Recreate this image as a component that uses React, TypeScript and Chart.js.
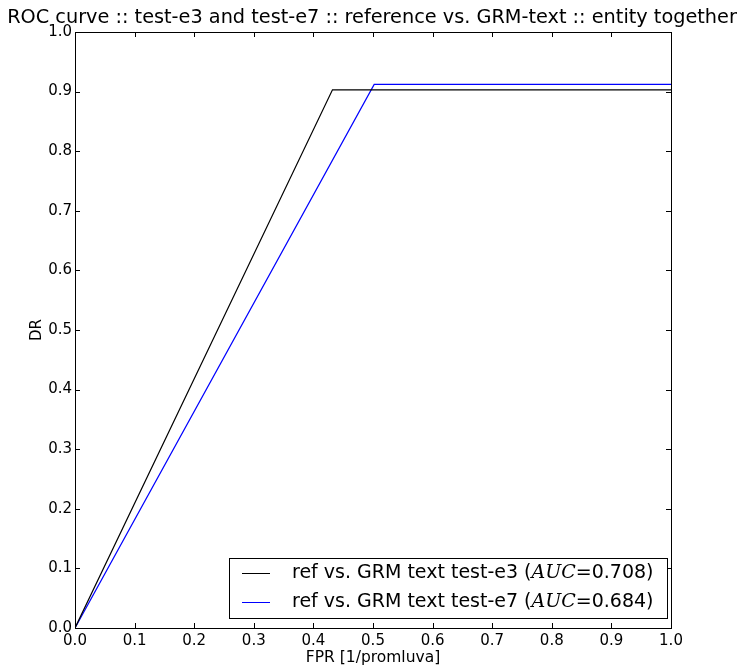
import React, { useEffect, useRef } from "react";
import { Chart, registerables } from "chart.js";

Chart.register(...registerables);

const fprE3 = [0, 0.432, 1];
const drE3 = [0, 0.903, 0.903];
const fprE7 = [0, 0.502, 1];
const drE7 = [0, 0.912, 0.912];
const tickValues = [0, 0.1, 0.2, 0.3, 0.4, 0.5, 0.6, 0.7, 0.8, 0.9, 1.0];
const seriesLabels = ["ref vs. GRM text test-e3 (", "ref vs. GRM text test-e7 ("];
const aucValues = ["0.708", "0.684"];
const seriesColors = ["#000000", "#0000ff"];
const titleText = "ROC curve :: test-e3 and test-e7 :: reference vs. GRM-text :: entity together";
const xTitle = "FPR [1/promluva]";
const yTitle = "DR";

const SANS = "'DejaVu Sans', sans-serif";

const decorPlugin = {
  id: "decor",
  afterDatasetsDraw(chart: any) {
    const ctx = chart.ctx as CanvasRenderingContext2D;
    const { left, right, top, bottom } = chart.chartArea;
    const xs = chart.scales.x;
    const ys = chart.scales.y;
    ctx.save();
    ctx.strokeStyle = "#000";
    ctx.lineWidth = 1;
    ctx.strokeRect(Math.round(left) + 0.5, Math.round(top) + 0.5, Math.round(right - left), Math.round(bottom - top));
    const tl = 5;
    ctx.beginPath();
    for (const v of tickValues) {
      const px = Math.round(xs.getPixelForValue(v)) + 0.5;
      ctx.moveTo(px, bottom);
      ctx.lineTo(px, bottom - tl);
      ctx.moveTo(px, top);
      ctx.lineTo(px, top + tl);
      const py = Math.round(ys.getPixelForValue(v)) + 0.5;
      ctx.moveTo(left, py);
      ctx.lineTo(left + tl, py);
      ctx.moveTo(right, py);
      ctx.lineTo(right - tl, py);
    }
    ctx.stroke();

    ctx.fillStyle = "#000";
    ctx.font = `19.3px ${SANS}`;
    ctx.textAlign = "center";
    ctx.textBaseline = "alphabetic";
    ctx.fillText(titleText, (left + right) / 2 - 1, 23);

    ctx.font = `15.5px ${SANS}`;
    ctx.fillText(xTitle, (left + right) / 2, 662);
    ctx.save();
    ctx.translate(41, (top + bottom) / 2);
    ctx.rotate(-Math.PI / 2);
    ctx.font = `15px ${SANS}`;
    ctx.fillText(yTitle, 0, 0);
    ctx.restore();

    const bx = 229, by = 558, bw = 438, bh = 60;
    ctx.fillStyle = "#fff";
    ctx.fillRect(bx, by, bw, bh);
    ctx.strokeStyle = "#000";
    ctx.strokeRect(bx + 0.5, by + 0.5, bw, bh);
    const rows = [573, 602];
    for (let i = 0; i < 2; i++) {
      const y = rows[i];
      ctx.strokeStyle = seriesColors[i];
      ctx.beginPath();
      ctx.moveTo(242, y + 0.5);
      ctx.lineTo(270, y + 0.5);
      ctx.stroke();
      ctx.fillStyle = "#000";
      ctx.textAlign = "left";
      ctx.textBaseline = "middle";
      let x = 292;
      ctx.font = `19px ${SANS}`;
      ctx.fillText(seriesLabels[i], x, y);
      x += ctx.measureText(seriesLabels[i]).width;
      ctx.font = `italic 19px 'DejaVu Serif', serif`;
      ctx.fillText("AUC", x, y);
      x += ctx.measureText("AUC").width;
      ctx.font = `19px ${SANS}`;
      ctx.fillText("=" + aucValues[i] + ")", x, y);
    }
    ctx.restore();
  },
};

export default function App() {
  const ref = useRef<HTMLCanvasElement | null>(null);
  useEffect(() => {
    if (!ref.current) return;
    const toPts = (xs: number[], ys: number[]) => xs.map((x, i) => ({ x, y: ys[i] }));
    const chart = new Chart(ref.current, {
      type: "scatter",
      data: {
        datasets: [
          {
            data: toPts(fprE3, drE3),
            showLine: true,
            borderColor: seriesColors[0],
            borderWidth: 1.2,
            pointRadius: 0,
            fill: false,
          },
          {
            data: toPts(fprE7, drE7),
            showLine: true,
            borderColor: seriesColors[1],
            borderWidth: 1.2,
            pointRadius: 0,
            fill: false,
          },
        ],
      },
      options: {
        responsive: false,
        animation: false,
        devicePixelRatio: 1,
        layout: { padding: { left: 0, top: 32, right: 69, bottom: 0 } },
        plugins: { legend: { display: false }, title: { display: false }, tooltip: { enabled: false } },
        scales: {
          x: {
            type: "linear",
            min: 0,
            max: 1,
            afterBuildTicks: (s: any) => {
              s.ticks = tickValues.map((v) => ({ value: v }));
            },
            afterFit: (s: any) => {
              s.height = 39;
            },
            grid: { display: false, drawTicks: false },
            border: { display: false },
            ticks: {
              color: "#000",
              font: { family: SANS, size: 15 },
              padding: 4,
              maxRotation: 0,
              autoSkip: false,
              callback: (v: any) => Number(v).toFixed(1),
            },
          },
          y: {
            type: "linear",
            min: 0,
            max: 1,
            afterBuildTicks: (s: any) => {
              s.ticks = tickValues.map((v) => ({ value: v }));
            },
            afterFit: (s: any) => {
              s.width = 75;
            },
            grid: { display: false, drawTicks: false },
            border: { display: false },
            ticks: {
              color: "#000",
              font: { family: SANS, size: 15 },
              padding: 3,
              autoSkip: false,
              callback: (v: any) => Number(v).toFixed(1),
            },
          },
        },
      },
      plugins: [decorPlugin],
    });
    return () => chart.destroy();
  }, []);
  return (
    <div style={{ position: "fixed", left: 0, top: 0, width: 740, height: 667, background: "#fff" }}>
      <canvas ref={ref} width={740} height={667} />
    </div>
  );
}
